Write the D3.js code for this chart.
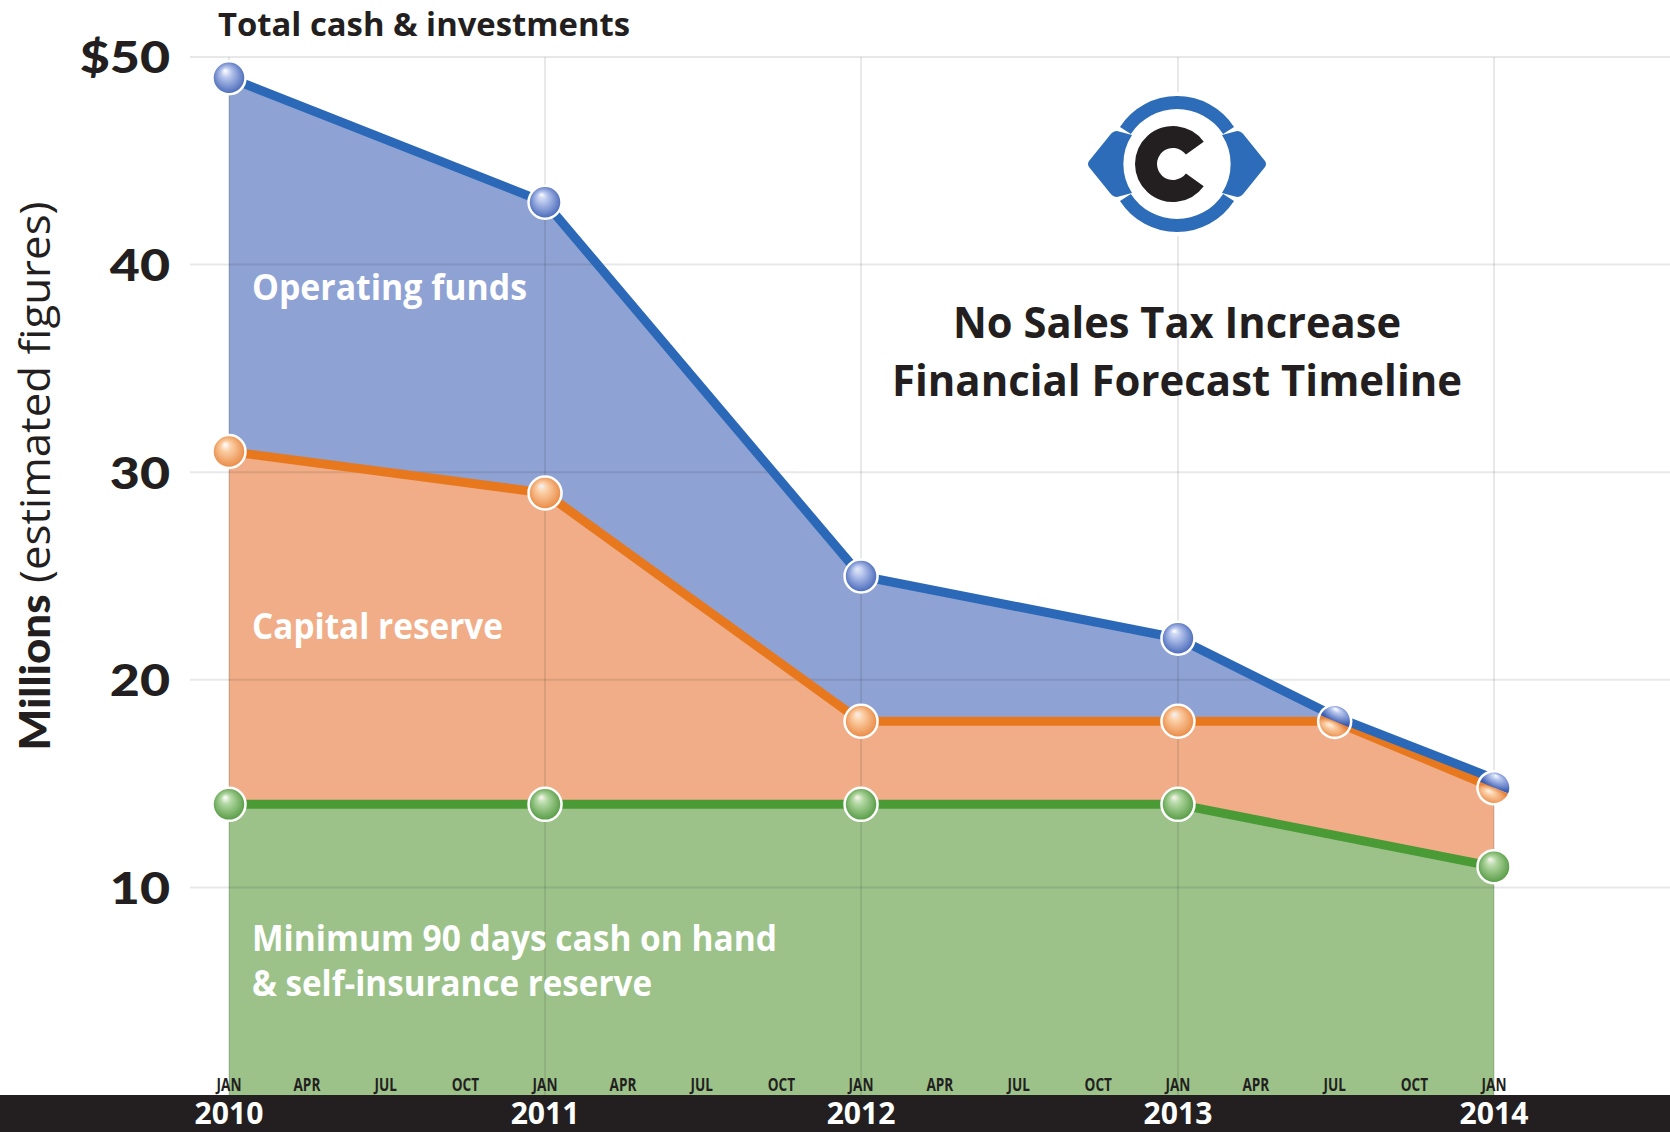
<!DOCTYPE html>
<html lang="en">
<head>
<meta charset="UTF-8">
<title>No Sales Tax Increase - Financial Forecast Timeline</title>
<style>
  html, body { margin: 0; padding: 0; background: #fff; }
  svg { display: block; }
</style>
</head>
<body>
<script src="https://cdn.jsdelivr.net/npm/d3@7/dist/d3.min.js"></script>
<script>
// data (millions of dollars)
var pointDates   = ["2010-01", "2011-01", "2012-01", "2013-01", "2013-07", "2014-01"];
var totalCash    = [49, 43, 25, 22, 18, 15];
var capitalTop   = [31, 29, 18, 18, 18, 14.8];
var reserveDates = ["2010-01", "2011-01", "2012-01", "2013-01", "2014-01"];
var minReserve   = [14, 14, 14, 14, 11];

var yTicks      = [10, 20, 30, 40, 50];
var years       = [2010, 2011, 2012, 2013, 2014];
var monthLabels = ["JAN", "APR", "JUL", "OCT"];

var width = 1670, height = 1132;
var parse = d3.timeParse("%Y-%m");

var blue   = {area: "#8fa2d4", line: "#2b69b8", light: "#b9c7ee", dark: "#3b5eb3"};
var orange = {area: "#f0ad87", line: "#e8781e", light: "#fbcfa6", dark: "#e8823a"};
var green  = {area: "#9cc28a", line: "#4a9a36", light: "#b3d8a3", dark: "#4b9439"};

var upper = pointDates.map(function (d, i) {
  return {date: parse(d), total: totalCash[i], capital: capitalTop[i]};
});
var res = reserveDates.map(function (d, i) {
  return {date: parse(d), value: minReserve[i]};
});

var x = d3.scaleTime()
    .domain([new Date(2010, 0, 1), new Date(2014, 0, 1)])
    .range([229, 1494]);
var y = d3.scaleLinear().domain([0, 50]).range([1095, 57]);

var svg = d3.select("body").append("svg")
    .attr("width", width)
    .attr("height", height)
    .style("font-family", "'Open Sans', sans-serif");

function fit(sel, w) {
  sel.attr("textLength", w).attr("lengthAdjust", "spacingAndGlyphs");
}

// gradients for the bead markers
var defs = svg.append("defs");
[["b", blue], ["o", orange], ["g", green]].forEach(function (c) {
  var gr = defs.append("radialGradient").attr("id", "bead-" + c[0])
      .attr("cx", "50%").attr("cy", "50%").attr("r", "55%")
      .attr("fx", "38%").attr("fy", "28%");
  gr.append("stop").attr("offset", "0%").attr("stop-color", "#fff").attr("stop-opacity", 0.85);
  gr.append("stop").attr("offset", "28%").attr("stop-color", c[1].light);
  gr.append("stop").attr("offset", "100%").attr("stop-color", c[1].dark);
});

// areas
var areaTotal = d3.area().x(function (d) { return x(d.date); })
    .y0(y(0)).y1(function (d) { return y(d.total); });
var areaCap = d3.area().x(function (d) { return x(d.date); })
    .y0(y(0)).y1(function (d) { return y(d.capital); });
var areaRes = d3.area().x(function (d) { return x(d.date); })
    .y0(y(0)).y1(function (d) { return y(d.value); });

svg.append("path").datum(upper).attr("d", areaTotal).attr("fill", blue.area);
svg.append("path").datum(upper).attr("d", areaCap).attr("fill", orange.area);
svg.append("path").datum(res).attr("d", areaRes).attr("fill", green.area);

// grid on top of the fills, faint
var grid = svg.append("g").attr("stroke", "#000").attr("stroke-opacity", 0.09).attr("stroke-width", 2);
grid.selectAll(".hy").data(yTicks).enter().append("line")
    .attr("x1", 190).attr("x2", width)
    .attr("y1", function (d) { return y(d); }).attr("y2", function (d) { return y(d); });
grid.selectAll(".vx").data(years).enter().append("line")
    .attr("x1", function (d) { return x(new Date(d, 0, 1)); })
    .attr("x2", function (d) { return x(new Date(d, 0, 1)); })
    .attr("y1", y(50)).attr("y2", y(0));

// lines
var lineRes = d3.line().x(function (d) { return x(d.date); }).y(function (d) { return y(d.value); });
var lineCap = d3.line().x(function (d) { return x(d.date); }).y(function (d) { return y(d.capital); });
var lineTot = d3.line().x(function (d) { return x(d.date); })
    .y(function (d) { return y(d.total) - (d.total - d.capital < 0.5 ? 5 : 0); });

svg.append("path").datum(res).attr("d", lineRes).attr("fill", "none")
    .attr("stroke", green.line).attr("stroke-width", 9).attr("stroke-linejoin", "round");
svg.append("path").datum(upper).attr("d", lineCap).attr("fill", "none")
    .attr("stroke", orange.line).attr("stroke-width", 9).attr("stroke-linejoin", "round");
svg.append("path").datum(upper).attr("d", lineTot).attr("fill", "none")
    .attr("stroke", blue.line).attr("stroke-width", 9).attr("stroke-linejoin", "round");

// markers
var R = 16.5;
function bead(px, py, id) {
  svg.append("circle").attr("cx", px).attr("cy", py).attr("r", R)
      .attr("fill", "url(#bead-" + id + ")")
      .attr("stroke", "#fff").attr("stroke-width", 2.5);
}
res.forEach(function (d) { bead(x(d.date), y(d.value), "g"); });

var half = d3.arc().innerRadius(0).outerRadius(R);
upper.forEach(function (d, i) {
  if (d.total - d.capital < 0.5) {
    // merged point: bead split along the line
    var p0 = i < upper.length - 1 ? d : upper[i - 1];
    var p1 = i < upper.length - 1 ? upper[i + 1] : d;
    var ang = Math.atan2(y(p1.capital) - y(p0.capital), x(p1.date) - x(p0.date)) * 180 / Math.PI;
    var g = svg.append("g").attr("transform",
        "translate(" + x(d.date) + "," + y(d.capital) + ") rotate(" + ang + ")");
    g.append("path").attr("d", half({startAngle: -Math.PI / 2, endAngle: Math.PI / 2}))
        .attr("fill", "url(#bead-b)");
    g.append("path").attr("d", half({startAngle: Math.PI / 2, endAngle: 3 * Math.PI / 2}))
        .attr("fill", "url(#bead-o)");
    g.append("circle").attr("r", R).attr("fill", "none")
        .attr("stroke", "#fff").attr("stroke-width", 2.5);
  } else {
    bead(x(d.date), y(d.capital), "o");
    bead(x(d.date), y(d.total), "b");
  }
});

// area labels
function areaLabel(txt, ty, w) {
  svg.append("text").attr("x", 252).attr("y", ty).text(txt)
      .attr("fill", "#fff").attr("font-size", 36).attr("font-weight", 700)
      .call(fit, w);
}
areaLabel("Operating funds", 300, 275);
areaLabel("Capital reserve", 639, 251);
areaLabel("Minimum 90 days cash on hand", 951, 525);
areaLabel("& self-insurance reserve", 996, 400);

// top label
svg.append("text").attr("x", 218).attr("y", 36).text("Total cash & investments")
    .attr("fill", "#231f20").attr("font-size", 32).attr("font-weight", 700)
    .call(fit, 412);

// title
svg.append("text").attr("x", 1177).attr("y", 338).attr("text-anchor", "middle")
    .text("No Sales Tax Increase")
    .attr("fill", "#231f20").attr("font-size", 43).attr("font-weight", 700).call(fit, 448);
svg.append("text").attr("x", 1177).attr("y", 396).attr("text-anchor", "middle")
    .text("Financial Forecast Timeline")
    .attr("fill", "#231f20").attr("font-size", 43).attr("font-weight", 700).call(fit, 570);

// y axis
var yAxis = svg.append("g").attr("transform", "translate(170,0)")
    .call(d3.axisLeft(y).tickValues(yTicks).tickSize(0).tickPadding(0)
      .tickFormat(function (d) { return d === 50 ? "$" + d : d; }));
yAxis.select(".domain").remove();
yAxis.selectAll("text")
    .attr("font-family", "Lato, sans-serif").attr("font-weight", 900)
    .attr("font-size", 44).attr("fill", "#231f20").attr("dy", "0.36em")
    .each(function () { var t = d3.select(this); fit(t, this.getComputedTextLength() * 1.18); });

var yl = svg.append("text")
    .attr("transform", "translate(50,476) rotate(-90)")
    .attr("text-anchor", "middle").attr("fill", "#231f20").attr("font-size", 42);
yl.append("tspan").text("Millions").attr("font-family", "Lato, sans-serif").attr("font-weight", 900);
yl.append("tspan").text(" (estimated figures)").attr("font-weight", 400);
fit(yl, 549);

// bottom band with years
svg.append("rect").attr("x", 0).attr("y", y(0)).attr("width", width)
    .attr("height", height - y(0)).attr("fill", "#231f20");

var months = d3.timeMonth.every(3).range(new Date(2010, 0, 1), new Date(2014, 0, 2));
svg.append("g").selectAll("text").data(months).enter().append("text")
    .attr("x", function (d) { return x(d); }).attr("y", 1091)
    .attr("text-anchor", "middle").attr("fill", "#231f20")
    .attr("font-size", 17).attr("font-weight", 700)
    .text(function (d) { return monthLabels[d.getMonth() / 3]; })
    .each(function () { var t = d3.select(this); fit(t, this.getComputedTextLength() * 0.8); });

svg.append("g").selectAll("text").data(years).enter().append("text")
    .attr("x", function (d) { return x(new Date(d, 0, 1)); }).attr("y", 1124)
    .attr("text-anchor", "middle").attr("fill", "#fff")
    .attr("font-size", 31).attr("font-weight", 700)
    .text(function (d) { return d; })
    .each(function () { var t = d3.select(this); fit(t, this.getComputedTextLength() * 0.97); });

// logo
var logo = svg.append("g").attr("transform", "translate(1177,164)");
logo.append("circle").attr("r", 72).attr("fill", "#fff");
var ring = d3.arc().innerRadius(55).outerRadius(68);
var deg = Math.PI / 180;
logo.append("path").attr("d", ring({startAngle: -57 * deg, endAngle: 57 * deg})).attr("fill", "#2d6cb8");
logo.append("path").attr("d", ring({startAngle: 123 * deg, endAngle: 237 * deg})).attr("fill", "#2d6cb8");
var side = "M-45,-29 L-60,-33 Q-64,-33 -67,-29 L-88,-3 Q-90,0 -88,3 L-67,29 Q-64,33 -60,33 L-45,29 A53,53 0 0 1 -45,-29 Z";
logo.append("path").attr("d", side).attr("fill", "#2d6cb8");
logo.append("path").attr("d", side).attr("fill", "#2d6cb8").attr("transform", "scale(-1,1)");
var cArc = d3.arc().innerRadius(16).outerRadius(38);
logo.append("path").attr("transform", "translate(-4,0)")
    .attr("d", cArc({startAngle: 126 * deg, endAngle: 414 * deg})).attr("fill", "#231f20");
</script>
</body>
</html>
